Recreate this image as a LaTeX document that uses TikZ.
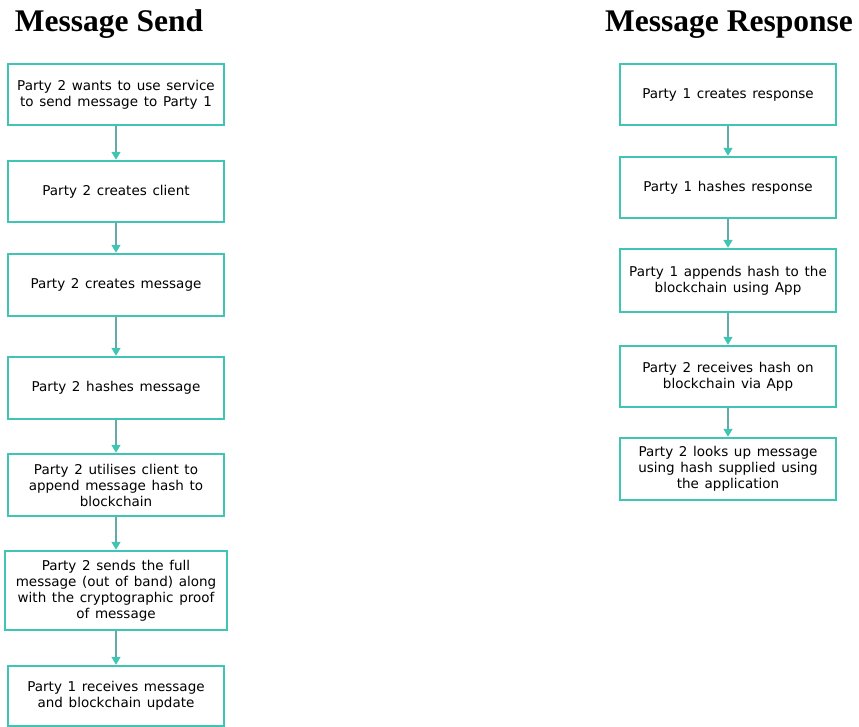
\documentclass[tikz,border=0pt]{standalone}
\usepackage{fontspec}
\setmainfont{DejaVu Sans}
\newfontfamily\titlefont{Liberation Serif}
\usetikzlibrary{arrows.meta}
\definecolor{boxc}{RGB}{64,196,180}
\definecolor{shaft}{RGB}{100,170,168}
\newcommand\stepfont{\fontsize{13.5}{16}\selectfont\spaceskip=0.42em plus 0.1em\relax}
\begin{document}
\begin{tikzpicture}[x=1pt,y=-1pt,
  stepbox/.style={draw=boxc, line width=1.4pt, fill=white, minimum width=216pt, minimum height=61pt, align=center, font=\stepfont, inner sep=0pt},
  flow/.style={draw=shaft, line width=1.5pt, -{Triangle[width=9pt,length=8pt,color=boxc]}, shorten >=0.5pt},
  titletext/.style={font=\titlefont\bfseries\fontsize{31.5}{31.5}\selectfont, anchor=base}]
\useasboundingbox (0,0) rectangle (859,727);

\node[titletext] (t1) at (109,32) {Message Send};
\node[titletext] (t2) at (729,32) {Message Response};

\node[stepbox] (a1) at (116,94.5) {Party 2 wants to use service\\to send message to Party 1};
\node[stepbox] (a2) at (116,191.5) {Party 2 creates client};
\node[stepbox, minimum height=62pt] (a3) at (116,285) {Party 2 creates message};
\node[stepbox, minimum height=62pt] (a4) at (116,388) {Party 2 hashes message};
\node[stepbox, minimum height=62pt] (a5) at (116,485) {Party 2 utilises client to\\append message hash to\\blockchain};
\node[stepbox, minimum width=222pt, minimum height=79pt] (a6) at (116,590.5) {Party 2 sends the full\\message (out of band) along\\with the cryptographic proof\\of message};
\node[stepbox, minimum height=60pt] (a7) at (116,696) {Party 1 receives message\\and blockchain update};

\node[stepbox] (b1) at (728,94.5) {Party 1 creates response};
\node[stepbox] (b2) at (728,187.5) {Party 1 hashes response};
\node[stepbox, minimum height=63pt] (b3) at (728,280.5) {Party 1 appends hash to the\\blockchain using App};
\node[stepbox] (b4) at (728,376.5) {Party 2 receives hash on\\blockchain via App};
\node[stepbox, minimum height=62pt] (b5) at (728,469) {Party 2 looks up message\\using hash supplied using\\the application};

\draw[flow] (a1) -- (a2);
\draw[flow] (a2) -- (a3);
\draw[flow] (a3) -- (a4);
\draw[flow] (a4) -- (a5);
\draw[flow] (a5) -- (a6);
\draw[flow] (a6) -- (a7);
\draw[flow] (b1) -- (b2);
\draw[flow] (b2) -- (b3);
\draw[flow] (b3) -- (b4);
\draw[flow] (b4) -- (b5);
\end{tikzpicture}
\end{document}
